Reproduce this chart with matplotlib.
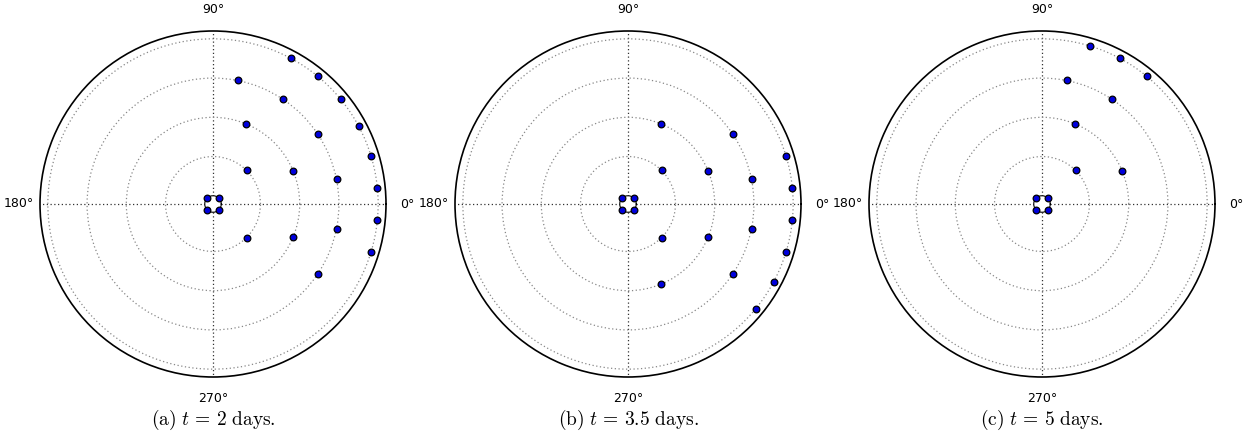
import matplotlib
matplotlib.use("Agg")
import matplotlib.pyplot as plt
import numpy as np

plt.rcParams["mathtext.fontset"] = "cm"

# point sets per panel: radius (ring index) and angle in degrees
A_R = [0, 0, 0, 0,
       1, 1,
       2, 2, 2,
       3, 3, 3, 3, 3, 3,
       4, 4, 4, 4, 4, 4, 4, 4]
A_THETA = [45, 135, 225, 315,
           45, -45,
           22.5, 67.5, -22.5,
           11.25, 33.75, 56.25, 78.75, -11.25, -33.75,
           5.625, 16.875, 28.125, 39.375, 50.625, 61.875, -5.625, -16.875]

B_R = [0, 0, 0, 0,
       1, 1,
       2, 2, 2, 2,
       3, 3, 3, 3,
       4, 4, 4, 4, 4, 4]
B_THETA = [45, 135, 225, 315,
           45, -45,
           22.5, 67.5, -22.5, -67.5,
           11.25, 33.75, -11.25, -33.75,
           5.625, 16.875, -5.625, -16.875, -28.125, -39.375]

C_R = [0, 0, 0, 0,
       1,
       2, 2,
       3, 3,
       4, 4, 4]
C_THETA = [45, 135, 225, 315,
           45,
           22.5, 67.5,
           56.25, 78.75,
           50.625, 61.875, 73.125]

CAPTIONS = [r"$\mathrm{(a)}\ t\,=\,2\ \mathrm{days.}$",
            r"$\mathrm{(b)}\ t\,=\,3.5\ \mathrm{days.}$",
            r"$\mathrm{(c)}\ t\,=\,5\ \mathrm{days.}$"]
PANELS = [(A_R, A_THETA), (B_R, B_THETA), (C_R, C_THETA)]
CENTERS_X = [213, 628, 1042]

W, H = 1250, 438
fig = plt.figure(figsize=(W / 100, H / 100), dpi=100)
RAD = 173
for (rs, ths), cx, cap in zip(PANELS, CENTERS_X, CAPTIONS):
    ax = fig.add_axes([(cx - RAD) / W, (H - 204 - RAD) / H, 2 * RAD / W, 2 * RAD / H],
                      projection="polar")
    ax.plot(np.deg2rad(ths), rs, "o", ms=4.8, mfc="#0000dd", mec="k", mew=0.9,
            clip_on=False, zorder=5)
    ax.set_rorigin(-0.21)
    ax.set_rlim(0, 4.2)
    ax.set_rticks([1, 2, 3, 4])
    ax.set_yticklabels([])
    ax.set_thetagrids([0, 90, 180, 270], ["0°", "90°", "180°", "270°"], fontsize=9)
    ax.tick_params(axis="x", pad=5)
    ax.xaxis.grid(True, color="#333333", linestyle=(0, (1, 2)), lw=0.9)
    ax.yaxis.grid(True, color="#888888", linestyle=(0, (1, 2)), lw=0.9)
    ax.spines["polar"].set_linewidth(1.2)
    fig.text(cx / W, 1 - 420 / H, cap, ha="center", va="center", fontsize=14)

fig.savefig("out.png", dpi=100)
